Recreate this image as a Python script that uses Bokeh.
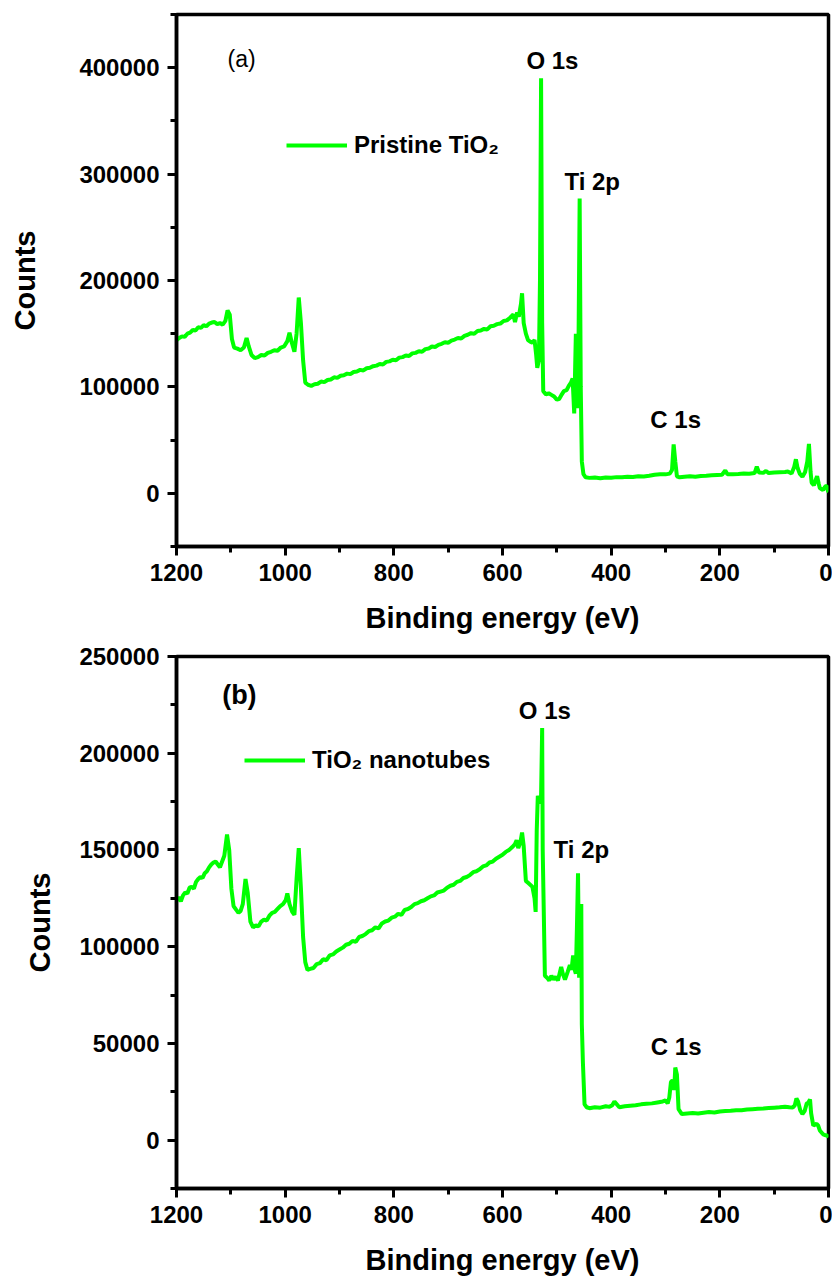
from bokeh.plotting import figure
from bokeh.models import Range1d, FixedTicker, Label, Legend, LegendItem, PrintfTickFormatter
from bokeh.layouts import column
from bokeh.embed import file_html
from bokeh.resources import INLINE

# ---------------- data ----------------
energy_a = [1200, 1195, 1190, 1185, 1180, 1175, 1170, 1165, 1160, 1155, 1150, 1145, 1140, 1135, 1130,
            1125, 1120, 1115, 1110, 1106, 1102, 1098, 1094, 1088, 1082, 1076, 1071, 1067, 1062, 1056,
            1050, 1044, 1038, 1032, 1026, 1020, 1014, 1008, 1002, 996, 992, 988, 983, 979, 975, 971,
            967, 963, 958, 952, 946, 940, 934, 928, 922, 916, 910, 904, 898, 892, 886, 880, 874, 868,
            862, 856, 850, 844, 838, 832, 826, 820, 814, 808, 802, 796, 790, 784, 778, 772, 766, 760,
            754, 748, 742, 736, 730, 724, 718, 712, 706, 700, 694, 688, 682, 676, 670, 664, 658, 652,
            646, 640, 634, 628, 622, 616, 610, 604, 598, 592, 586, 580, 577, 573, 570, 566, 564, 561,
            557, 553, 549, 545, 541, 538, 536, 533, 531, 529, 527, 525, 520, 515, 510, 505, 500, 496,
            492, 487, 482, 478, 474, 471, 468, 465, 463, 461, 458, 456, 454, 451, 447, 440, 430, 420,
            410, 400, 390, 380, 370, 360, 350, 340, 330, 320, 310, 300, 292, 288, 285, 282, 279, 274,
            265, 255, 245, 235, 225, 215, 205, 196, 190, 186, 176, 166, 156, 146, 136, 132, 128, 120,
            115, 110, 100, 90, 80, 75, 68, 63, 60, 57, 53, 48, 43, 39, 36, 33, 31, 27, 24, 21, 18, 16,
            10, 6, 3, 1, 0]
counts_a = [144000, 146000, 147500, 147000, 150000, 151000, 153500, 153000, 156000, 155500, 158000,
            157000, 159500, 160500, 161000, 159000, 160000, 158500, 162000, 172000, 168000, 145000,
            137000, 136000, 134500, 137000, 146000, 138000, 130000, 127000, 128000, 130000, 129500,
            132000, 133000, 134500, 134000, 137000, 138000, 143000, 151000, 142000, 133000, 150000,
            184000, 160000, 125000, 104000, 102000, 101000, 102500, 103000, 105000, 104500, 106500,
            107000, 109000, 108500, 110500, 111000, 112500, 112000, 114000, 114500, 116000, 115500,
            117500, 118000, 119500, 120000, 121500, 121000, 123500, 124000, 125500, 125000, 127500,
            128000, 129500, 129000, 131500, 132000, 133500, 133000, 135500, 136000, 138000, 137500,
            139500, 140500, 142000, 141500, 143500, 144500, 146000, 145500, 148000, 149000, 150500,
            150000, 152500, 153000, 154500, 154000, 157000, 157500, 159000, 159500, 162000, 162500,
            165000, 168000, 161000, 170000, 166000, 178000, 188000, 160000, 150000, 144000, 142500,
            141500, 144000, 130000, 118000, 125000, 200000, 390000, 160000, 96000, 93000, 94000,
            92500, 91000, 88000, 88500, 92000, 96000, 97000, 101000, 104000, 108000, 75000, 150000,
            110000, 80000, 277000, 100000, 30000, 18000, 15000, 14500, 14800, 14200, 14900, 14600,
            15200, 15000, 15500, 15300, 16000, 15800, 16500, 17500, 18000, 17800, 18500, 22000,
            46000, 30000, 16000, 15000, 15500, 16000, 15500, 16200, 16500, 17000, 17300, 17500,
            21500, 18000, 18000, 18200, 18500, 18300, 19000, 25000, 19500, 19200, 21000, 19000,
            19500, 19800, 20000, 20500, 18500, 25000, 32000, 24000, 18500, 15500, 20000, 30000,
            46500, 20000, 10000, 7500, 12000, 16000, 9000, 5000, 3000, 6500, 7000, 2000, 1500]

energy_b = [1200, 1196, 1192, 1188, 1184, 1180, 1176, 1172, 1168, 1164, 1160, 1156, 1152, 1148, 1144,
            1140, 1136, 1132, 1128, 1124, 1120, 1116, 1112, 1107, 1103, 1099, 1095, 1090, 1086, 1082,
            1078, 1073, 1069, 1064, 1059, 1054, 1049, 1044, 1039, 1034, 1029, 1024, 1019, 1014, 1009,
            1004, 999, 996, 992, 987, 983, 979, 975, 971, 967, 963, 959, 954, 948, 942, 936, 930, 924,
            918, 912, 906, 900, 894, 888, 882, 876, 870, 864, 858, 852, 846, 840, 834, 828, 822, 816,
            810, 804, 798, 792, 786, 780, 774, 768, 762, 756, 750, 744, 738, 732, 726, 720, 714, 708,
            702, 696, 690, 684, 678, 672, 666, 660, 654, 648, 642, 636, 630, 624, 618, 612, 606, 600,
            594, 588, 582, 577, 574, 571, 567, 564, 561, 557, 553, 549, 545, 541, 539, 537, 535, 533,
            531, 529, 527, 526, 522, 518, 514, 510, 506, 502, 498, 495, 492, 489, 485, 480, 476, 473,
            470, 467, 465, 463, 461, 459, 457, 455, 454, 452, 449, 445, 440, 430, 420, 410, 403, 398,
            394, 385, 375, 365, 355, 345, 335, 325, 315, 305, 300, 296, 293, 290, 287, 284, 282, 279,
            276, 270, 260, 250, 240, 230, 220, 210, 200, 190, 180, 170, 160, 150, 140, 130, 120, 110,
            100, 90, 80, 72, 66, 62, 59, 56, 52, 48, 44, 40, 37, 34, 32, 28, 25, 22, 19, 16, 10, 5, 2, 0]
counts_b = [124000, 125500, 123500, 126500, 128000, 127500, 130500, 131000, 130000, 133500, 135000,
            136000, 135500, 138000, 139000, 141000, 142500, 143500, 144000, 142500, 141000, 144000,
            147000, 158000, 150000, 130000, 121000, 119000, 117500, 118500, 122000, 135000, 128000,
            113000, 110000, 111000, 110500, 113000, 114000, 113500, 116000, 117500, 118000, 119500,
            121000, 122000, 124000, 127500, 122000, 118000, 116500, 135000, 151000, 130000, 105000,
            92000, 88000, 88500, 89000, 91000, 91500, 93500, 93000, 95500, 96000, 97500, 98500, 99500,
            101000, 101500, 103000, 102500, 105000, 105500, 106500, 108000, 108500, 110000, 109500,
            112000, 113000, 113500, 115000, 115500, 117000, 116500, 119000, 119500, 120500, 122000,
            122500, 123500, 124000, 125000, 126000, 126500, 128000, 128500, 129000, 130500, 131500,
            132000, 133500, 134000, 135500, 136000, 137000, 138500, 139000, 140000, 141500, 142000,
            143500, 144000, 145500, 146500, 147500, 149000, 150000, 151500, 153000, 155000, 151000,
            154000, 159000, 152000, 134000, 133000, 132000, 131000, 125000, 118000, 160000, 178000,
            176000, 174000, 178000, 213000, 150000, 85000, 84000, 82500, 85000, 83000, 84500, 82500,
            86000, 89500, 86000, 83000, 87000, 90500, 88000, 95500, 88000, 86000, 110000, 138000,
            84000, 100000, 122000, 60000, 40000, 18500, 17000, 16500, 17000, 16800, 17500, 17200,
            18000, 20000, 17000, 17500, 17800, 18000, 18500, 18800, 19000, 19500, 20000, 20500,
            19000, 22000, 30000, 31000, 26000, 37500, 34000, 16000, 13500, 13800, 14000, 13800,
            14200, 14500, 14300, 14800, 15000, 15200, 15500, 15400, 15800, 16000, 16200, 16300,
            16600, 16800, 17000, 17300, 17000, 16800, 18000, 21500, 20000, 15500, 13500, 15000,
            19000, 19500, 21000, 14000, 7500, 8000, 8500, 7500, 5000, 3000, 2500, 2300, 1500, 0]

x_ticks = [1200, 1000, 800, 600, 400, 200, 0]
x_minor = [1100, 900, 700, 500, 300, 100]
y_ticks_a = [0, 100000, 200000, 300000, 400000]
y_minor_a = [-50000, 50000, 150000, 250000, 350000, 450000]
y_ticks_b = [0, 50000, 100000, 150000, 200000, 250000]
y_minor_b = [-25000, 25000, 75000, 125000, 175000, 225000]

legend_a = "Pristine TiO\u2082"
legend_b = "TiO\u2082 nanotubes"
panel_a = "(a)"
panel_b = "(b)"
x_title = "Binding energy (eV)"
y_title = "Counts"

FONT = "Liberation Sans"
GREEN = "#00FF00"


def make_panel(energy, counts, y_range, ticks, minor, border_top, border_bottom, ylab_standoff):
    p = figure(frame_width=652, frame_height=532, x_range=Range1d(1200, 0), y_range=Range1d(*y_range),
               output_backend="svg", toolbar_location=None,
               min_border_left=176, min_border_right=4,
               min_border_top=border_top, min_border_bottom=border_bottom)
    p.xgrid.visible = False
    p.ygrid.visible = False
    p.outline_line_color = "black"
    p.outline_line_width = 3.5
    p.outline_line_alpha = 1
    r = p.line(energy, counts, line_color=GREEN, line_width=4)

    p.xaxis.ticker = FixedTicker(ticks=x_ticks, minor_ticks=x_minor)
    p.yaxis.ticker = FixedTicker(ticks=ticks, minor_ticks=minor)
    p.yaxis.formatter = PrintfTickFormatter(format="%d")
    for ax in (p.xaxis[0], p.yaxis[0]):
        ax.axis_line_width = 3.5
        ax.axis_line_color = "black"
        ax.major_tick_line_width = 3
        ax.minor_tick_line_width = 3
        ax.major_tick_line_color = "black"
        ax.minor_tick_line_color = "black"
        ax.major_tick_out = 9
        ax.major_tick_in = 0
        ax.minor_tick_out = 6
        ax.minor_tick_in = 0
        ax.major_label_text_font = FONT
        ax.major_label_text_font_style = "bold"
        ax.major_label_text_font_size = "24px"
        ax.major_label_text_color = "black"
        ax.axis_label_text_font = FONT
        ax.axis_label_text_font_style = "bold"
        ax.axis_label_text_font_size = "29px"
        ax.axis_label_text_color = "black"
        ax.major_label_standoff = 8
    p.xaxis.axis_label = x_title
    p.yaxis.axis_label = y_title
    p.xaxis.axis_label_standoff = 18
    p.yaxis.axis_label_standoff = ylab_standoff
    return p, r


def add_label(p, text, x, y, size="24px", style="bold"):
    p.add_layout(Label(x=x, y=y, text=text, text_font=FONT, text_font_style=style,
                       text_font_size=size, text_color="black",
                       text_align="left", text_baseline="middle"))


def add_legend(p, r, text, lx, ly):
    leg = Legend(items=[LegendItem(label=text, renderers=[r])], location=(lx, ly),
                 glyph_width=61, glyph_height=20, label_standoff=7, padding=0, margin=0,
                 border_line_alpha=0, background_fill_alpha=0,
                 label_text_font=FONT, label_text_font_style="bold",
                 label_text_font_size="24px", label_text_color="black")
    p.add_layout(leg)


# panel (a)
p1, r1 = make_panel(energy_a, counts_a, (-50000, 450000), y_ticks_a, y_minor_a, 14, 93, 35)
add_label(p1, panel_a, 1106, 408000, size="23px", style="normal")
add_label(p1, "O 1s", 556, 407000)
add_label(p1, "Ti 2p", 486, 293000)
add_label(p1, "C 1s", 328, 69000)
add_legend(p1, r1, legend_a, 110, 387)

# panel (b)
p2, r2 = make_panel(energy_b, counts_b, (-25000, 250000), y_ticks_b, y_minor_b, 17, 86, 20)
add_label(p2, panel_b, 1116, 230000, size="27px", style="bold")
add_label(p2, "O 1s", 570, 222000)
add_label(p2, "Ti 2p", 506, 150000)
add_label(p2, "C 1s", 327, 48500)
add_legend(p2, r2, legend_b, 68, 414)

layout = column(p1, p2, spacing=0)
open("out.html", "w").write(file_html(layout, INLINE))
